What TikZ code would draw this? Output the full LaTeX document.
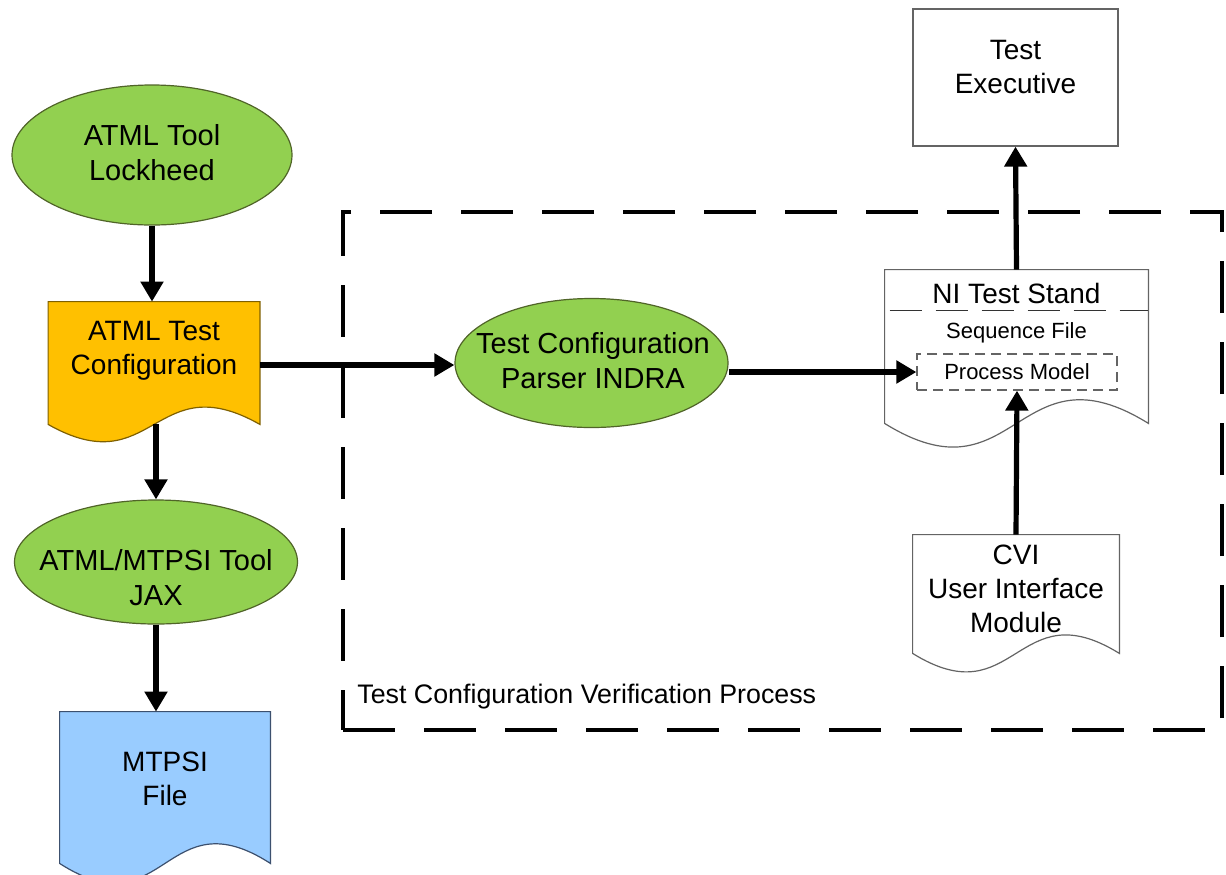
\documentclass[tikz,border=0pt]{standalone}
\usepackage{fontspec}
\setmainfont{Liberation Sans}
\usepackage{xcolor}
\usetikzlibrary{arrows.meta,positioning,shapes.geometric,calc}

\definecolor{toolgreen}{RGB}{146,208,80}
\definecolor{toolline}{RGB}{80,100,40}
\definecolor{cfgorange}{RGB}{255,192,0}
\definecolor{cfgline}{RGB}{127,96,0}
\definecolor{fileblue}{RGB}{153,204,255}
\definecolor{fileline}{RGB}{60,80,110}
\definecolor{greyline}{RGB}{100,100,100}

\begin{document}
\begin{tikzpicture}[
  x=0.5pt, y=-0.5pt,
  font=\fontsize{14}{17}\selectfont,
  tool/.style={ellipse, draw=toolline, line width=0.6pt, fill=toolgreen, inner sep=0pt},
  tooltext/.style={align=center, inner sep=0pt, font=\fontsize{14.5}{17.5}\selectfont},
  docbox/.style={rectangle, inner sep=0pt},
  docline/.style={draw=greyline, line width=0.6pt},
  lbl/.style={align=center, inner sep=0pt},
  small/.style={font=\fontsize{11}{13}\selectfont, inner sep=0pt},
  flow/.style={-{Triangle[length=10pt,width=11pt]}, line width=2.6pt}
]
\clip (0,0) rectangle (1226,874);

% verification process frame
\node[rectangle, draw, line width=2pt, dash pattern=on 26pt off 14.5pt,
      minimum width=439.5pt, minimum height=259pt] (verif) at (782.5,471) {};
\node[lbl, anchor=west, font=\fontsize{13.4}{16}\selectfont] (veriflabel) at (357,697)
  {Test Configuration Verification Process};

% left column
\node[tool, minimum width=140pt, minimum height=70pt] (lock) at (152,155) {};
\node[tooltext] (locktext) at (152,153) {ATML Tool\\Lockheed};

\node[docbox, minimum width=105.5pt, minimum height=61pt] (cfg) at (154,363) {};
\draw[docline, draw=cfgline, fill=cfgorange] (cfg.south west) -- (cfg.north west) -- (cfg.north east)
  -- (cfg.south east) .. controls ($(cfg.south)+(0,-60)$) and ($(cfg.south)+(0,60)$) .. (cfg.south west) -- cycle;
\node[lbl] (cfgtext) at (154,351) {ATML Test\\Configuration};

\node[tool, minimum width=141.5pt, minimum height=62pt] (jax) at (156,562) {};
\node[tooltext] (jaxtext) at (156,578) {ATML/MTPSI Tool\\JAX};

\node[docbox, minimum width=105pt, minimum height=75.5pt] (mtpsi) at (165,787.5) {};
\draw[docline, draw=fileline, fill=fileblue] (mtpsi.south west) -- (mtpsi.north west) -- (mtpsi.north east)
  -- (mtpsi.south east) .. controls ($(mtpsi.south)+(0,-68)$) and ($(mtpsi.south)+(0,68)$) .. (mtpsi.south west) -- cycle;
\node[lbl] (mtpsitext) at (165,779) {MTPSI\\File};

\draw[flow] (lock.south) -- (lock.south |- cfg.north);
\draw[flow] (cfg.south -| jax.north) -- (jax.north);
\draw[flow] (jax.south) -- (jax.south |- mtpsi.north);

% middle
\node[tool, minimum width=136.5pt, minimum height=64.5pt] (parser) at (591.5,363) {};
\node[tooltext] (parsertext) at (593,361) {Test Configuration\\Parser INDRA};
\draw[flow] (cfg.east |- 0,365) -- (parser.west |- 0,365);

% right column
\node[rectangle, docline, minimum width=102.5pt, minimum height=68.5pt] (exec) at (1015.5,77.5) {};
\node[lbl] (exectext) at (1015.5,67) {Test\\Executive};

\node[docbox, minimum width=131.5pt, minimum height=76.5pt] (stand) at (1016.5,346.5) {};
\draw[docline, fill=white] (stand.south west) -- (stand.north west) -- (stand.north east)
  -- (stand.south east) .. controls ($(stand.south)+(0,-82)$) and ($(stand.south)+(0,82)$) .. (stand.south west) -- cycle;
\node[lbl] (standtitle) at (1016.5,293) {NI Test Stand};
\draw[draw=black!80, line width=0.8pt, dash pattern=on 16pt off 7pt, dash phase=-2.5pt]
  ($(stand.north west)+(0,41)$) -- ($(stand.north east)+(0,41)$);
\node[small] (seqtext) at (1016.5,333) {Sequence File};
\node[small, draw=greyline, line width=0.6pt, dash pattern=on 5pt off 3pt,
      minimum width=100pt, minimum height=18pt] (pm) at (1017,372) {Process Model};

\node[docbox, minimum width=103pt, minimum height=59pt] (cvi) at (1016,594) {};
\draw[docline, fill=white] (cvi.south west) -- (cvi.north west) -- (cvi.north east)
  -- (cvi.south east) .. controls ($(cvi.south)+(0,-64)$) and ($(cvi.south)+(0,64)$) .. (cvi.south west) -- cycle;
\node[lbl] (cvitext) at (1016,589) {CVI\\User Interface\\Module};

\draw[flow] (parser.east |- pm.west) -- (pm.west);
\draw[flow] (cvi.north) -- (pm.south);
\draw[flow] (stand.north) -- (exec.south);
\end{tikzpicture}
\end{document}
